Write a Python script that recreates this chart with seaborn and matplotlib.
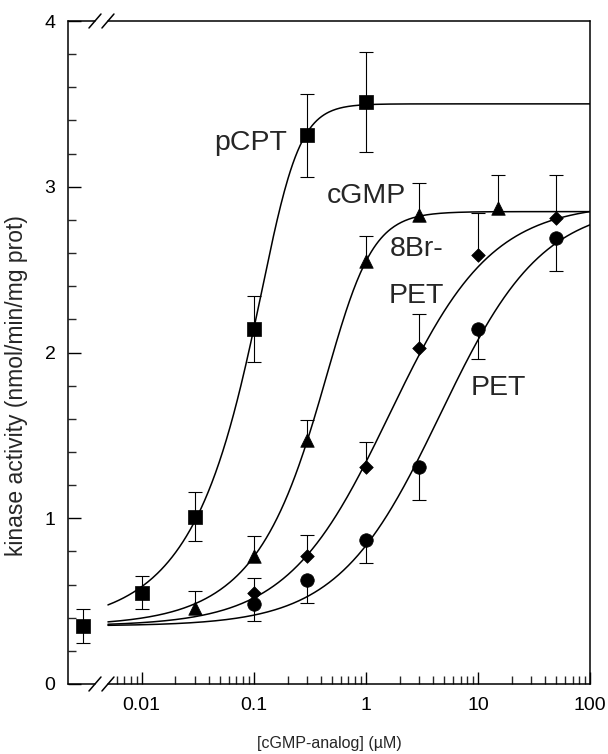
import numpy as np
import pandas as pd
import matplotlib
matplotlib.use("Agg")
import matplotlib.pyplot as plt
from matplotlib.ticker import FixedLocator, FixedFormatter, NullFormatter
import seaborn as sns

# ---------------- data ----------------
control_x = [0.003]
control_y = [0.35]
control_err = [0.10]

pcpt_x = [0.01, 0.03, 0.1, 0.3, 1.0]
pcpt_y = [0.55, 1.01, 2.14, 3.31, 3.51]
pcpt_lo = [0.10, 0.15, 0.20, 0.25, 0.30]
pcpt_hi = [0.10, 0.15, 0.20, 0.25, 0.30]

cgmp_x = [0.03, 0.1, 0.3, 1.0, 3.0, 15.0]
cgmp_y = [0.46, 0.77, 1.47, 2.55, 2.83, 2.87]
cgmp_lo = [0, 0, 0, 0, 0, 0]
cgmp_hi = [0.10, 0.12, 0.12, 0.15, 0.19, 0.20]

br_x = [0.1, 0.3, 1.0, 3.0, 10.0, 50.0]
br_y = [0.55, 0.77, 1.31, 2.03, 2.59, 2.81]
br_lo = [0, 0, 0, 0, 0, 0]
br_hi = [0.09, 0.13, 0.15, 0.20, 0.25, 0.26]

pet_x = [0.1, 0.3, 1.0, 3.0, 10.0, 50.0]
pet_y = [0.48, 0.63, 0.87, 1.31, 2.14, 2.69]
pet_lo = [0.10, 0.14, 0.14, 0.20, 0.18, 0.20]
pet_hi = [0, 0, 0, 0, 0, 0]

# fitted dose-response curve parameters: bottom, top, EC, slope, asymmetry
fit_names = ["pCPT", "cGMP", "8Br-PET", "PET"]
fit_bottom = [0.35, 0.35, 0.35, 0.35]
fit_top = [3.50, 2.85, 2.90, 2.90]
fit_ec = [0.177, 0.662, 1.62, 4.6]
fit_slope = [3.0, 2.36, 0.95, 0.95]
fit_asym = [0.3, 0.4, 1.0, 1.0]
curve_range = [0.005, 100]

x_ticks = [0.01, 0.1, 1, 10, 100]
x_ticklabels = ["0.01", "0.1", "1", "10", "100"]
y_ticks = [0, 1, 2, 3, 4]
y_ticklabels = ["0", "1", "2", "3", "4"]
x_label = "[cGMP-analog] (\u00b5M)"
y_label = "kinase activity (nmol/min/mg prot)"

# ---------------- styling ----------------
sns.set_theme(style="ticks")
plt.rcParams["font.family"] = ["Liberation Sans", "DejaVu Sans"]
plt.rcParams["axes.linewidth"] = 1.1

fig = plt.figure(figsize=(6.08, 7.54), dpi=100)
ax = fig.add_axes([68 / 608, 1 - 684 / 754, (590 - 68) / 608, (684 - 21) / 754])
ax.set_xscale("log")
XMIN, XMAX = 0.0022, 100
ax.set_xlim(XMIN, XMAX)
ax.set_ylim(0, 4)

# curves
xs = np.geomspace(curve_range[0], curve_range[1], 400)
rows = []
for name, b, t, c, n, s in zip(fit_names, fit_bottom, fit_top, fit_ec, fit_slope, fit_asym):
    ys = b + (t - b) * (1 + (c / xs) ** n) ** (-s)
    rows.append(pd.DataFrame({"x": xs, "y": ys, "series": name}))
curves = pd.concat(rows, ignore_index=True)
sns.lineplot(data=curves, x="x", y="y", units="series", estimator=None,
             color="black", linewidth=1.1, ax=ax, legend=False, zorder=2)

# error bars
def err(x, y, lo, hi):
    _, caps, _ = ax.errorbar(x, y, yerr=[lo, hi], fmt="none", ecolor="black",
                             elinewidth=0.8, capsize=4.8, capthick=0.8, zorder=3)
    if not any(lo):
        caps[0].set_visible(False)
    if not any(hi):
        caps[1].set_visible(False)

err(control_x, control_y, control_err, control_err)
err(pcpt_x, pcpt_y, pcpt_lo, pcpt_hi)
err(cgmp_x, cgmp_y, cgmp_lo, cgmp_hi)
err(br_x, br_y, br_lo, br_hi)
err(pet_x, pet_y, pet_lo, pet_hi)

# markers
pts = pd.concat([
    pd.DataFrame({"x": control_x, "y": control_y, "m": "s"}),
    pd.DataFrame({"x": pcpt_x, "y": pcpt_y, "m": "s"}),
    pd.DataFrame({"x": cgmp_x, "y": cgmp_y, "m": "^"}),
    pd.DataFrame({"x": br_x, "y": br_y, "m": "D"}),
    pd.DataFrame({"x": pet_x, "y": pet_y, "m": "o"}),
], ignore_index=True)
sizes = {"s": 90, "^": 95, "D": 48, "o": 95}
for m, sub in pts.groupby("m"):
    sns.scatterplot(data=sub, x="x", y="y", marker=m, s=sizes[m], color="black",
                    edgecolor="black", linewidth=0.5, ax=ax, legend=False, zorder=4)

# labels on curves
lab_fs = 20.5
ax.text(0.198, 3.22, "pCPT", ha="right", va="baseline", fontsize=lab_fs)
ax.text(0.45, 2.90, "cGMP", ha="left", va="baseline", fontsize=lab_fs)
ax.text(1.62, 2.584, "8Br-", ha="left", va="baseline", fontsize=lab_fs)
ax.text(1.60, 2.30, "PET", ha="left", va="baseline", fontsize=lab_fs)
ax.text(8.6, 1.744, "PET", ha="left", va="baseline", fontsize=lab_fs)

# ticks
ax.xaxis.set_major_locator(FixedLocator(x_ticks))
ax.xaxis.set_major_formatter(FixedFormatter(x_ticklabels))
minor = [m * 10.0 ** e for e in (-3, -2, -1, 0, 1) for m in range(2, 10)]
minor = [v for v in minor if 0.0059 < v < 100]
ax.xaxis.set_minor_locator(FixedLocator(minor))
ax.xaxis.set_minor_formatter(NullFormatter())
ax.yaxis.set_major_locator(FixedLocator(y_ticks))
ax.yaxis.set_major_formatter(FixedFormatter(y_ticklabels))
ax.yaxis.set_minor_locator(FixedLocator([v / 5 for v in range(1, 20) if v % 5]))
ax.tick_params(which="major", direction="in", length=9, width=1.0, labelsize=14,
               top=False, right=False, colors="black")
ax.tick_params(which="minor", direction="in", length=5.5, width=1.0, top=False, right=False)
ax.tick_params(axis="x", which="major", pad=9)
ax.tick_params(axis="y", which="major", pad=9)

ax.set_xlabel(x_label, fontsize=11.5)
ax.set_ylabel(y_label, fontsize=16.5)
ax.xaxis.set_label_coords(0.5, -0.078)
ax.yaxis.set_label_coords(-0.077, 0.45)

# axis break on bottom and top spines
ax.spines["bottom"].set_visible(False)
ax.spines["top"].set_visible(False)
for s in ("left", "right"):
    ax.spines[s].set_color("black")

def frac(v):
    return (np.log10(v) - np.log10(XMIN)) / (np.log10(XMAX) - np.log10(XMIN))

b1, b2 = frac(0.00383), frac(0.0050)
dx, dy = 6 / 522, 7 / 663
for yy in (0, 1):
    ax.plot([0, b1], [yy, yy], color="black", lw=1.1, transform=ax.transAxes, clip_on=False)
    ax.plot([b2, 1], [yy, yy], color="black", lw=1.1, transform=ax.transAxes, clip_on=False)
    for bb in (b1, b2):
        ax.plot([bb - dx, bb + dx], [yy - dy, yy + dy], color="black", lw=1.1,
                transform=ax.transAxes, clip_on=False)

fig.savefig("out.png", dpi=100, facecolor="white")
